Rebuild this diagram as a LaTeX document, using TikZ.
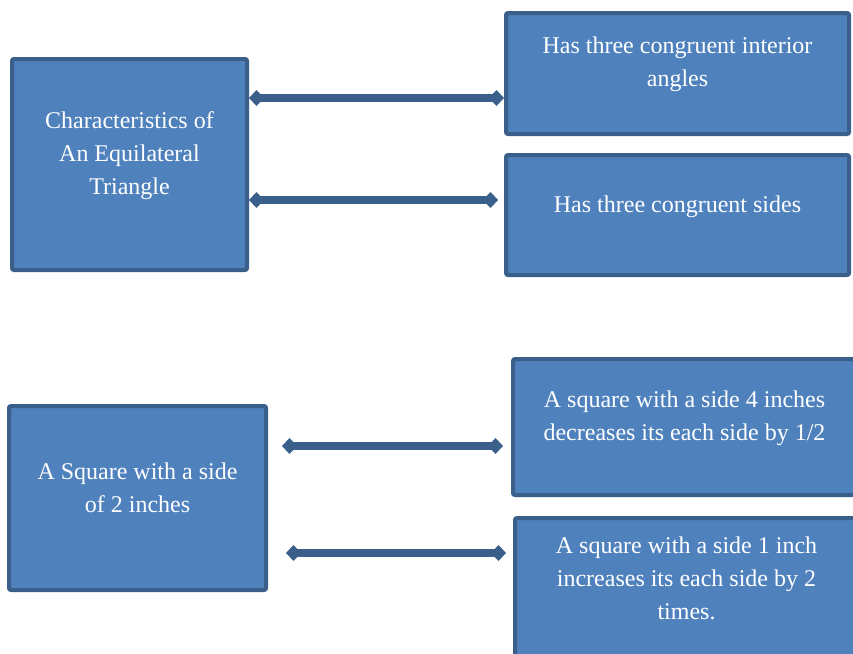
\documentclass[tikz,border=0pt]{standalone}
\usepackage{fontspec}
\setmainfont{Liberation Serif}
\usetikzlibrary{arrows.meta,positioning}
\definecolor{boxfill}{HTML}{4F81BD}
\definecolor{boxline}{HTML}{3A5F8B}
\tikzstyle{blk}=[rectangle,draw=boxline,fill=boxfill,line width=4pt,rounded corners=2pt]
\tikzstyle{txt}=[text=white,align=center,font=\fontsize{24}{33}\selectfont]
\tikzstyle{link}=[draw=boxline,line width=8pt,{Diamond[length=15pt,width=16pt]}-{Diamond[length=15pt,width=16pt]}]

\begin{document}
\begin{tikzpicture}[x=1pt,y=-1pt]
\useasboundingbox (0,0) rectangle (853,653);
\node[blk,minimum width=235pt,minimum height=211pt,label={[txt,yshift=9pt]center:{Characteristics of\\An Equilateral\\Triangle}}] (A) at (129.5,164.5) {};
\node[blk,minimum width=343pt,minimum height=121pt,label={[txt,yshift=9pt]center:{Has three congruent interior\\angles}}] (B) at (677.5,73.5) {};
\node[blk,minimum width=343pt,minimum height=120pt,label={[txt,yshift=8pt]center:{Has three congruent sides}}] (C) at (677.5,215) {};
\node[blk,minimum width=257pt,minimum height=184pt,label={[txt,yshift=10pt]center:{A Square with a side\\of 2 inches}}] (D) at (137.5,498) {};
\node[blk,minimum width=343pt,minimum height=136pt,label={[txt,yshift=9pt]center:{A square with a side 4 inches\\decreases its each side by 1/2}}] (E) at (684.5,427) {};
\node[blk,minimum width=343pt,minimum height=150pt,label={[txt,yshift=15pt]center:{A square with a side 1 inch\\increases its each side by 2\\times.}}] (F) at (686.5,593) {};
%\node (G) at (0,0) {};
\path
(A.east |- 0,98) edge[link] (B.west |- 0,98)
(A.east |- 0,200) edge[link,shorten >=6pt] (C.west |- 0,200)
(D.east |- 0,446) edge[link,shorten <=14pt,shorten >=8pt] (E.west |- 0,446)
(D.east |- 0,553) edge[link,shorten <=18pt,shorten >=7pt] (F.west |- 0,553);
\end{tikzpicture}
\end{document}
